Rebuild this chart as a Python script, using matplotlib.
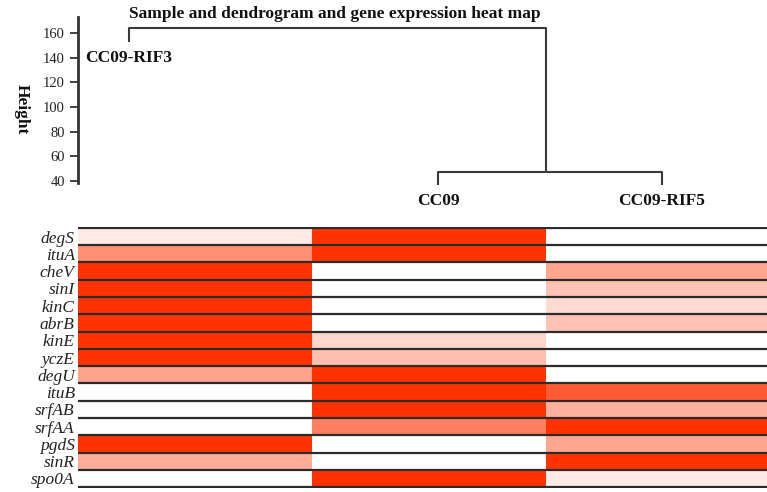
import numpy as np
import matplotlib.pyplot as plt
from matplotlib.colors import LinearSegmentedColormap

plt.rcParams['font.family'] = ['Liberation Serif', 'DejaVu Serif']

samples = ['CC09-RIF3', 'CC09', 'CC09-RIF5']
genes = ['degS', 'ituA', 'cheV', 'sinI', 'kinC', 'abrB', 'kinE', 'yczE',
         'degU', 'ituB', 'srfAB', 'srfAA', 'pgdS', 'sinR', 'spo0A']

# relative expression, one list per sample (0 = low, 1 = high)
expr_rif3 = [0.10, 0.55, 1.0, 1.0, 1.0, 1.0, 1.0, 1.0,
             0.45, 0.0, 0.0, 0.0, 1.0, 0.40, 0.0]
expr_cc09 = [1.0, 1.0, 0.0, 0.0, 0.0, 0.0, 0.20, 0.32,
             1.0, 1.0, 1.0, 0.62, 0.0, 0.0, 1.0]
expr_rif5 = [0.0, 0.0, 0.43, 0.30, 0.18, 0.30, 0.0, 0.0,
             0.0, 0.80, 0.38, 1.0, 0.43, 1.0, 0.10]

# dendrogram: (CC09, CC09-RIF5) join low, RIF3 joins at the top
merge_low = 47.3
merge_top = 164.0
leaf_tips = [152.7, 36.8, 36.8]

W, H = 767, 492
fig = plt.figure(figsize=(W / 100, H / 100), dpi=100)

def px_axes(left, top, right, bottom):
    return fig.add_axes([left / W, 1 - bottom / H, (right - left) / W, (bottom - top) / H])

# ---- heat map ----
hm = px_axes(77.5, 227, 780, 488)
cmap = LinearSegmentedColormap.from_list('wr', ['#ffffff', '#ff3300'])
data = np.array([expr_rif3, expr_cc09, expr_rif5]).T
hm.imshow(data, cmap=cmap, vmin=0, vmax=1, aspect='auto',
          interpolation='nearest', extent=(0, 3, len(genes), 0))
hm.hlines(np.arange(len(genes) + 1), 0, 3, colors='#2b2b2b', lw=1.6)
hm.set_xlim(0, 3)
hm.set_ylim(len(genes) + 0.05, -0.05)
hm.set_yticks(np.arange(len(genes)) + 0.5)
hm.set_yticklabels(genes, fontstyle='italic', fontsize=12.5, color='#222222')
hm.tick_params(axis='y', length=0, pad=2)
hm.set_xticks([])
for s in hm.spines.values():
    s.set_visible(False)

# ---- dendrogram ----
dg = px_axes(77.5, 17, 780, 183)
leaf_x = [0.22, 1.54, 2.495]
join_x = 2.0
lc = '#3a3a3a'
lw = 1.5
# lower link: CC09 + CC09-RIF5
dg.plot([leaf_x[1], leaf_x[1], leaf_x[2], leaf_x[2]],
        [leaf_tips[1], merge_low, merge_low, leaf_tips[2]],
        color=lc, lw=lw, clip_on=False, solid_capstyle='butt')
# top link: CC09-RIF3 + the pair above
dg.plot([leaf_x[0], leaf_x[0], join_x, join_x],
        [leaf_tips[0], merge_top, merge_top, merge_low],
        color=lc, lw=lw, clip_on=False, solid_capstyle='butt')
for x, tip, name in zip(leaf_x, leaf_tips, samples):
    dg.annotate(name, (x, tip), xytext=(0, -6), textcoords='offset points',
                ha='center', va='top', fontsize=12.5, fontweight='bold',
                color='#111111', annotation_clip=False)

dg.set_xlim(0, 3)
dg.set_ylim(38.4, 173)
dg.set_yticks([40, 60, 80, 100, 120, 140, 160])
dg.tick_params(axis='y', length=6, width=1.3, color='#333333',
               labelsize=10.5, labelcolor='#222222', pad=3)
dg.set_xticks([])
for k in ['top', 'right', 'bottom']:
    dg.spines[k].set_visible(False)
dg.spines['left'].set_linewidth(2)
dg.spines['left'].set_color('#333333')
dg.patch.set_alpha(0)

fig.text(22 / W, 1 - 109 / H, 'Height', rotation=270, ha='center', va='center',
         fontsize=12.5, fontweight='bold', color='#111111')
fig.text(335 / W, 1 - 14 / H, 'Sample and dendrogram and gene expression heat map',
         ha='center', va='center', fontsize=12.5, fontweight='bold', color='#111111')

fig.savefig('out.png', dpi=100)
